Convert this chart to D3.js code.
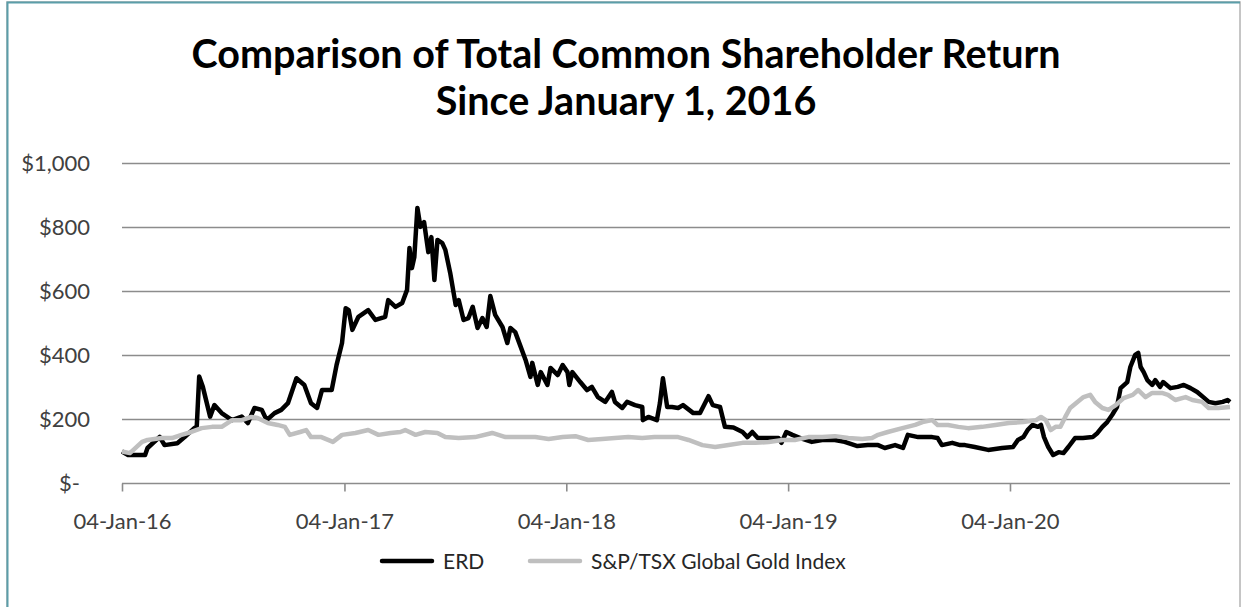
<!DOCTYPE html>
<html>
<head>
<meta charset="utf-8">
<script src="https://cdn.jsdelivr.net/npm/d3@7"></script>
<style>
  body { margin: 0; background: #fff; }
  svg text { font-family: Lato, "Open Sans", sans-serif; }
</style>
</head>
<body>
<div class="svg_container"></div>
<script>
// chart text
var titleLines = ["Comparison of Total Common Shareholder Return", "Since January 1, 2016"];
var seriesNames = ["ERD", "S&P/TSX Global Gold Index"];
var yTicks = [0, 200, 400, 600, 800, 1000];
var xTicks = ["2016-01-04", "2017-01-04", "2018-01-04", "2019-01-04", "2020-01-04"];

// ERD, value of $100 invested
var erdDates = ["2016-01-04","2016-01-14","2016-02-11","2016-02-15","2016-03-06","2016-03-14","2016-04-04","2016-04-16","2016-05-02","2016-05-06",
  "2016-05-10","2016-05-16","2016-05-28","2016-06-04","2016-06-16","2016-07-03","2016-07-19","2016-07-29","2016-08-09","2016-08-21",
  "2016-08-29","2016-09-11","2016-09-22","2016-10-03","2016-10-17","2016-10-30","2016-11-10","2016-11-20","2016-11-28","2016-12-14",
  "2016-12-22","2016-12-31","2017-01-06","2017-01-11","2017-01-17","2017-01-27","2017-02-12","2017-02-24","2017-03-12","2017-03-17",
  "2017-03-29","2017-04-09","2017-04-17","2017-04-21","2017-04-25","2017-04-29","2017-05-04","2017-05-09","2017-05-15","2017-05-22",
  "2017-05-27","2017-06-01","2017-06-06","2017-06-14","2017-06-19","2017-06-27","2017-07-06","2017-07-11","2017-07-19","2017-07-27",
  "2017-08-03","2017-08-11","2017-08-19","2017-08-26","2017-09-01","2017-09-09","2017-09-21","2017-09-29","2017-10-04","2017-10-12",
  "2017-10-21","2017-10-29","2017-11-06","2017-11-09","2017-11-18","2017-11-23","2017-12-04","2017-12-09","2017-12-21","2017-12-29",
  "2018-01-06","2018-01-09","2018-01-14","2018-01-27","2018-02-07","2018-02-15","2018-02-25","2018-03-09","2018-03-20","2018-03-25",
  "2018-04-06","2018-04-14","2018-04-27","2018-05-09","2018-05-10","2018-05-19","2018-06-02","2018-06-07","2018-06-12","2018-06-19",
  "2018-06-27","2018-07-07","2018-07-15","2018-08-01","2018-08-12","2018-08-26","2018-09-02","2018-09-14","2018-09-22","2018-10-06",
  "2018-10-21","2018-10-29","2018-11-06","2018-11-15","2018-12-03","2018-12-19","2018-12-24","2019-01-01","2019-01-11","2019-01-24",
  "2019-02-12","2019-03-01","2019-03-22","2019-04-07","2019-04-28","2019-05-15","2019-06-01","2019-06-12","2019-06-29","2019-07-12",
  "2019-07-20","2019-08-06","2019-08-29","2019-09-07","2019-09-14","2019-10-01","2019-10-14","2019-10-22","2019-11-07","2019-11-29",
  "2019-12-22","2020-01-09","2020-01-17","2020-01-26","2020-02-02","2020-02-10","2020-02-19","2020-02-24","2020-02-29","2020-03-07",
  "2020-03-15","2020-03-24","2020-04-01","2020-04-09","2020-04-20","2020-05-03","2020-05-19","2020-05-27","2020-06-04","2020-06-12",
  "2020-06-20","2020-06-28","2020-07-04","2020-07-15","2020-07-20","2020-07-28","2020-08-02","2020-08-06","2020-08-11","2020-08-17",
  "2020-08-25","2020-08-30","2020-09-07","2020-09-12","2020-09-24","2020-10-06","2020-10-16","2020-10-27","2020-11-07","2020-11-17",
  "2020-11-26","2020-12-07","2020-12-19","2020-12-27","2020-12-31"];
var erdValues = [100,89,89,111,146,120,126,145,173,178,
  334,302,209,245,220,198,209,189,236,230,
  198,220,230,251,329,308,251,236,292,292,
  370,439,548,542,480,521,542,511,521,573,
  552,564,605,736,673,708,861,802,817,723,
  770,636,761,751,730,658,558,573,511,517,
  552,486,517,489,586,527,489,439,486,473,
  427,386,333,377,308,348,308,361,339,370,
  348,308,348,317,292,302,270,255,286,255,
  236,255,245,239,198,208,198,251,329,239,
  239,236,245,220,220,273,245,239,177,175,
  161,145,161,142,142,142,127,161,152,142,
  130,136,136,130,117,120,120,111,120,111,
  152,145,145,142,120,127,120,120,114,105,
  111,114,136,145,167,183,177,183,145,114,
  89,98,95,114,142,142,145,158,177,192,
  214,239,298,317,364,402,408,364,348,323,
  308,323,302,317,298,302,308,298,286,270,
  255,251,255,261,255];

// S&P/TSX Global Gold Index, value of $100 invested
var goldDates = ["2016-01-04","2016-01-17","2016-02-06","2016-02-15","2016-03-09","2016-03-26","2016-04-11","2016-04-27","2016-05-14","2016-05-31",
  "2016-06-16","2016-07-03","2016-07-19","2016-08-04","2016-08-14","2016-08-31","2016-09-16","2016-09-28","2016-10-06","2016-10-23",
  "2016-11-02","2016-11-10","2016-11-27","2016-12-16","2016-12-31","2017-01-22","2017-02-12","2017-03-01","2017-03-21","2017-04-06",
  "2017-04-14","2017-05-01","2017-05-17","2017-06-06","2017-06-19","2017-07-11","2017-08-07","2017-09-04","2017-09-26","2017-10-25",
  "2017-11-14","2017-12-06","2017-12-29","2018-01-19","2018-02-09","2018-03-04","2018-03-25","2018-04-16","2018-05-09","2018-05-29",
  "2018-06-20","2018-07-07","2018-07-24","2018-08-16","2018-09-06","2018-09-28","2018-10-21","2018-11-11","2018-12-03","2018-12-26",
  "2019-01-15","2019-02-06","2019-03-01","2019-03-22","2019-04-13","2019-05-06","2019-05-22","2019-06-01","2019-06-17","2019-07-11",
  "2019-08-01","2019-08-13","2019-08-29","2019-09-07","2019-09-24","2019-10-11","2019-10-27","2019-11-19","2019-12-11","2020-01-02",
  "2020-01-26","2020-02-16","2020-02-24","2020-03-03","2020-03-11","2020-03-19","2020-03-27","2020-04-04","2020-04-12","2020-04-24",
  "2020-05-04","2020-05-15","2020-05-23","2020-06-04","2020-06-14","2020-06-26","2020-07-09","2020-07-24","2020-08-02","2020-08-14",
  "2020-08-25","2020-09-10","2020-09-20","2020-10-02","2020-10-19","2020-10-30","2020-11-15","2020-11-26","2020-12-12","2020-12-31"];
var goldValues = [100,95,130,136,142,142,152,161,173,177,
  177,198,198,208,205,189,183,177,152,161,
  167,145,145,130,152,158,167,152,158,161,
  167,152,161,158,145,142,145,158,145,145,
  145,139,145,148,136,139,142,145,142,145,
  145,145,136,120,114,120,127,127,130,136,
  136,145,145,148,142,139,142,152,161,173,
  183,192,198,183,183,177,173,177,183,189,
  192,198,208,198,167,177,177,208,236,255,
  270,277,255,236,230,245,267,277,292,270,
  283,283,277,261,270,261,255,236,236,239];

var parseDate = d3.timeParse("%Y-%m-%d");
var erd = erdDates.map(function(d, i) { return { date: parseDate(d), value: erdValues[i] }; });
var gold = goldDates.map(function(d, i) { return { date: parseDate(d), value: goldValues[i] }; });

var width = 1241, height = 607;
var plot = { left: 122, right: 1230, top: 163.5, bottom: 483.5 };

var svg = d3.select(".svg_container").append("svg")
  .attr("width", width)
  .attr("height", height);

// chart frame
svg.append("rect")
  .attr("x", 7).attr("y", 2)
  .attr("width", 1233).attr("height", 640)
  .attr("fill", "#fff")
  .attr("stroke", "#b3b3b3")
  .attr("stroke-width", 1.5);
svg.append("path")
  .attr("d", "M7.5,640 L7.5,2.5 L1240,2.5")
  .attr("fill", "none")
  .attr("stroke", "#5b9ea9")
  .attr("stroke-width", 2);

var x = d3.scaleTime()
  .domain([parseDate("2016-01-04"), parseDate("2020-12-31")])
  .range([plot.left, plot.right]);
var y = d3.scaleLinear()
  .domain([0, 1000])
  .range([plot.bottom, plot.top]);

// title
svg.selectAll(".title")
  .data(titleLines)
  .enter().append("text")
  .attr("class", "title")
  .attr("x", 626)
  .attr("y", function(d, i) { return 68 + i * 47; })
  .attr("text-anchor", "middle")
  .attr("font-size", 39.5)
  .attr("font-weight", "bold")
  .attr("fill", "#000")
  .text(function(d) { return d; });

// gridlines
svg.append("g")
  .selectAll("line")
  .data(yTicks.filter(function(d) { return d > 0; }))
  .enter().append("line")
  .attr("x1", plot.left).attr("x2", plot.right)
  .attr("y1", function(d) { return y(d); })
  .attr("y2", function(d) { return y(d); })
  .attr("stroke", "#8c8c8c")
  .attr("stroke-width", 1.6);

// y axis labels
var fmt = d3.format(",");
svg.append("g")
  .selectAll("text")
  .data(yTicks)
  .enter().append("text")
  .attr("x", function(d) { return d === 0 ? 80 : 90; })
  .attr("y", function(d) { return y(d); })
  .attr("dy", "0.36em")
  .attr("text-anchor", "end")
  .attr("font-size", 22)
  .attr("fill", "#404040")
  .text(function(d) { return d === 0 ? "$-" : "$" + fmt(d); });

// x axis
var xAxis = svg.append("g")
  .attr("transform", "translate(0," + plot.bottom + ")")
  .call(d3.axisBottom(x)
    .tickValues(xTicks.map(parseDate))
    .tickFormat(d3.timeFormat("%d-%b-%y"))
    .tickSize(8)
    .tickPadding(22));
xAxis.select(".domain")
  .attr("d", "M" + plot.left + ",0H" + plot.right)
  .attr("stroke", "#8c8c8c")
  .attr("stroke-width", 1.6);
xAxis.selectAll(".tick line").attr("stroke", "#8c8c8c").attr("stroke-width", 1.6);
xAxis.selectAll(".tick text")
  .attr("font-family", "Lato, sans-serif")
  .attr("font-size", 22)
  .attr("fill", "#404040");

// series lines
var line = d3.line()
  .x(function(d) { return x(d.date); })
  .y(function(d) { return y(d.value); });

svg.append("path")
  .datum(erd)
  .attr("fill", "none")
  .attr("stroke", "#000")
  .attr("stroke-width", 4.5)
  .attr("stroke-linejoin", "round")
  .attr("d", line);

svg.append("path")
  .datum(gold)
  .attr("fill", "none")
  .attr("stroke", "#bfbfbf")
  .attr("stroke-width", 4.5)
  .attr("stroke-linejoin", "round")
  .attr("d", line);

// legend
var legendX = [382, 530];
var legendColors = ["#000", "#bfbfbf"];
var legend = svg.append("g")
  .selectAll("g")
  .data(seriesNames)
  .enter().append("g")
  .attr("transform", function(d, i) { return "translate(" + legendX[i] + ",561)"; });
legend.append("line")
  .attr("x1", 0).attr("x2", 50)
  .attr("stroke", function(d, i) { return legendColors[i]; })
  .attr("stroke-width", 4.5)
  .attr("stroke-linecap", "round");
legend.append("text")
  .attr("x", 61)
  .attr("dy", "0.36em")
  .attr("font-size", 21)
  .attr("fill", "#262626")
  .text(function(d) { return d; });
</script>
</body>
</html>
